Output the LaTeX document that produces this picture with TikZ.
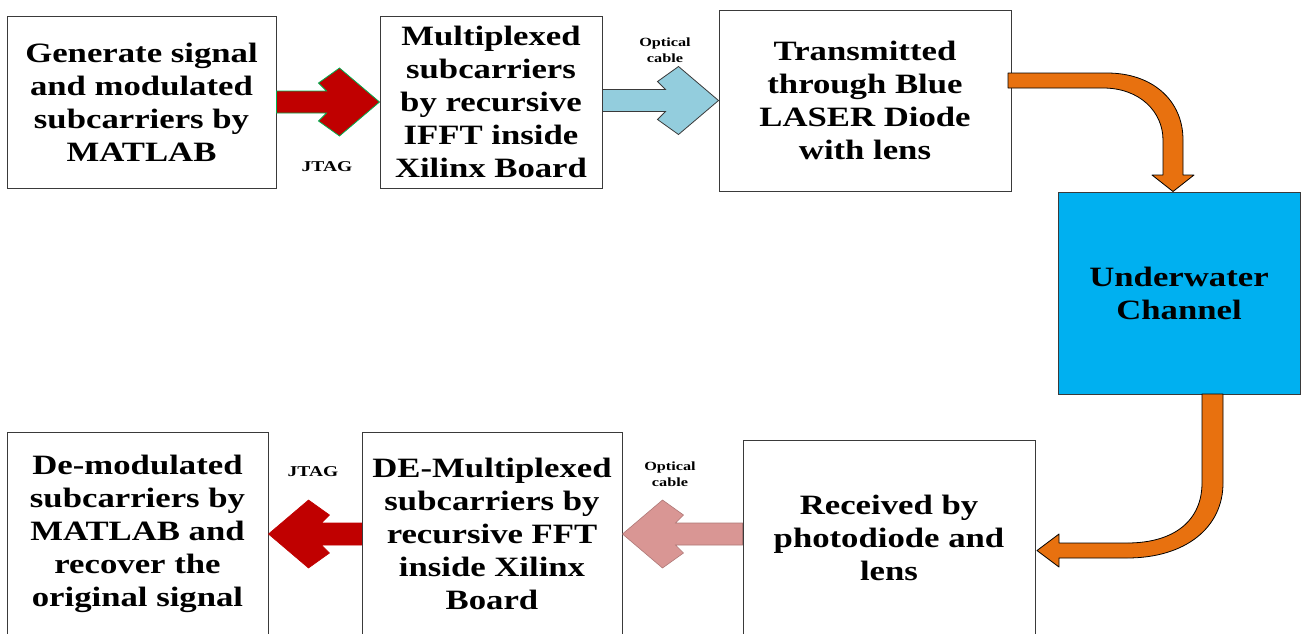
\documentclass[tikz,border=0pt]{standalone}
\usepackage{fontspec}
\setmainfont{Liberation Serif}
\newfontfamily\boxfont[FakeStretch=1.24]{Liberation Serif}
\newfontfamily\lblfont[FakeStretch=1.3]{Liberation Serif}
\usetikzlibrary{calc}
\definecolor{arrred}{HTML}{C00000}
\definecolor{arrblue}{HTML}{93CDDD}
\definecolor{arrpink}{HTML}{D99694}
\definecolor{arrorange}{HTML}{E8710F}
\definecolor{chan}{HTML}{00B0F0}
\definecolor{edge}{HTML}{3A3A3A}
\definecolor{greenedge}{HTML}{00B050}
\newcommand\harrow[3]{%
 \draw[#1] let \p1=(#2), \p2=(#3), \n1={sign(\x2-\x1)} in
 (\x1,{\y2+11pt}) -- ({\x2-53pt*\n1},{\y2+11pt}) -- ({\x2-61pt*\n1},{\y2+19pt}) --
 ({\x2-40pt*\n1},{\y2+34pt}) -- (\x2,\y2) -- ({\x2-40pt*\n1},{\y2-34pt}) --
 ({\x2-61pt*\n1},{\y2-19pt}) -- ({\x2-53pt*\n1},{\y2-11pt}) -- (\x1,{\y2-11pt}) -- cycle;}
\begin{document}
\begin{tikzpicture}[x=1pt,y=-1pt,
 box/.style={draw=edge, line width=1pt, fill=white, align=center, inner sep=0pt,
   font=\boxfont\fontsize{28}{33}\selectfont\bfseries},
 lbl/.style={font=\lblfont\fontsize{15}{16}\selectfont\bfseries, align=center, inner sep=0pt},
 slbl/.style={font=\lblfont\fontsize{12.5}{15.5}\selectfont\bfseries, align=center, inner sep=0pt},
 curv/.style={fill=arrorange, draw=black, line width=0.8pt, line join=round}]
\clip (0,0) rectangle (1304,633);
\fill[white] (0,0) rectangle (1304,633);
\node[box, minimum width=269pt, minimum height=172pt] (A) at (141.5,102)
  {Generate signal\\and modulated\\subcarriers by\\MATLAB};
\node[box, minimum width=222pt, minimum height=172pt] (B) at (491,102)
  {Multiplexed\\subcarriers\\by recursive\\IFFT inside\\Xilinx Board};
\node[box, minimum width=292pt, minimum height=181pt] (C) at (865,100.5)
  {Transmitted\\through Blue\\LASER Diode\\with lens};
\node[box, fill=chan, minimum width=242pt, minimum height=202pt] (D) at (1179,293)
  {Underwater\\Channel};
\node[box, minimum width=292pt, minimum height=196pt] (E) at (889,538)
  {Received by\\photodiode and\\lens};
\node[box, minimum width=260pt, minimum height=204pt] (F) at (492,534)
  {DE-Multiplexed\\subcarriers by\\recursive FFT\\inside Xilinx\\Board};
\node[box, minimum width=261pt, minimum height=204pt] (G) at (137.5,534)
  {De-modulated\\subcarriers by\\MATLAB and\\recover the\\original signal};

\harrow{fill=arrred, draw=greenedge, line width=0.8pt}{A.east}{B.west}
\harrow{fill=arrblue, draw=edge, line width=0.8pt}{B.east}{C.west}
\harrow{fill=arrpink, draw=arrpink!80!black, line width=0.6pt}{E.west}{F.east}
\harrow{fill=arrred, draw=arrred, line width=0.6pt}{F.west}{G.east}

\draw[curv] (1008,73) -- (1107,73) .. controls (1152,73) and (1183,100) .. (1183,140)
  -- (1183,175) -- (1194,175) -- (D.north -| 1173,0) -- (1152,175) -- (1163,175) -- (1163,140)
  .. controls (1163,112) and (1140,88) .. (1103,88) -- (1008,88) -- cycle;
\draw[curv] (1202,394) -- (1223,394) -- (1223,483) .. controls (1223,528) and (1185,558) .. (1127,558)
  -- (1059,558) -- (1059,567) -- (1037,550.5) -- (1059,534) -- (1059,543) -- (1127,543)
  .. controls (1175,543) and (1202,520) .. (1202,483) -- cycle;

\node[lbl] (j1) at (327,167) {JTAG};
\node[lbl] (j2) at (313,472) {JTAG};
\node[slbl] (o1) at (665,50) {Optical\\cable};
\node[slbl] (o2) at (670,474) {Optical\\cable};
\end{tikzpicture}
\end{document}
